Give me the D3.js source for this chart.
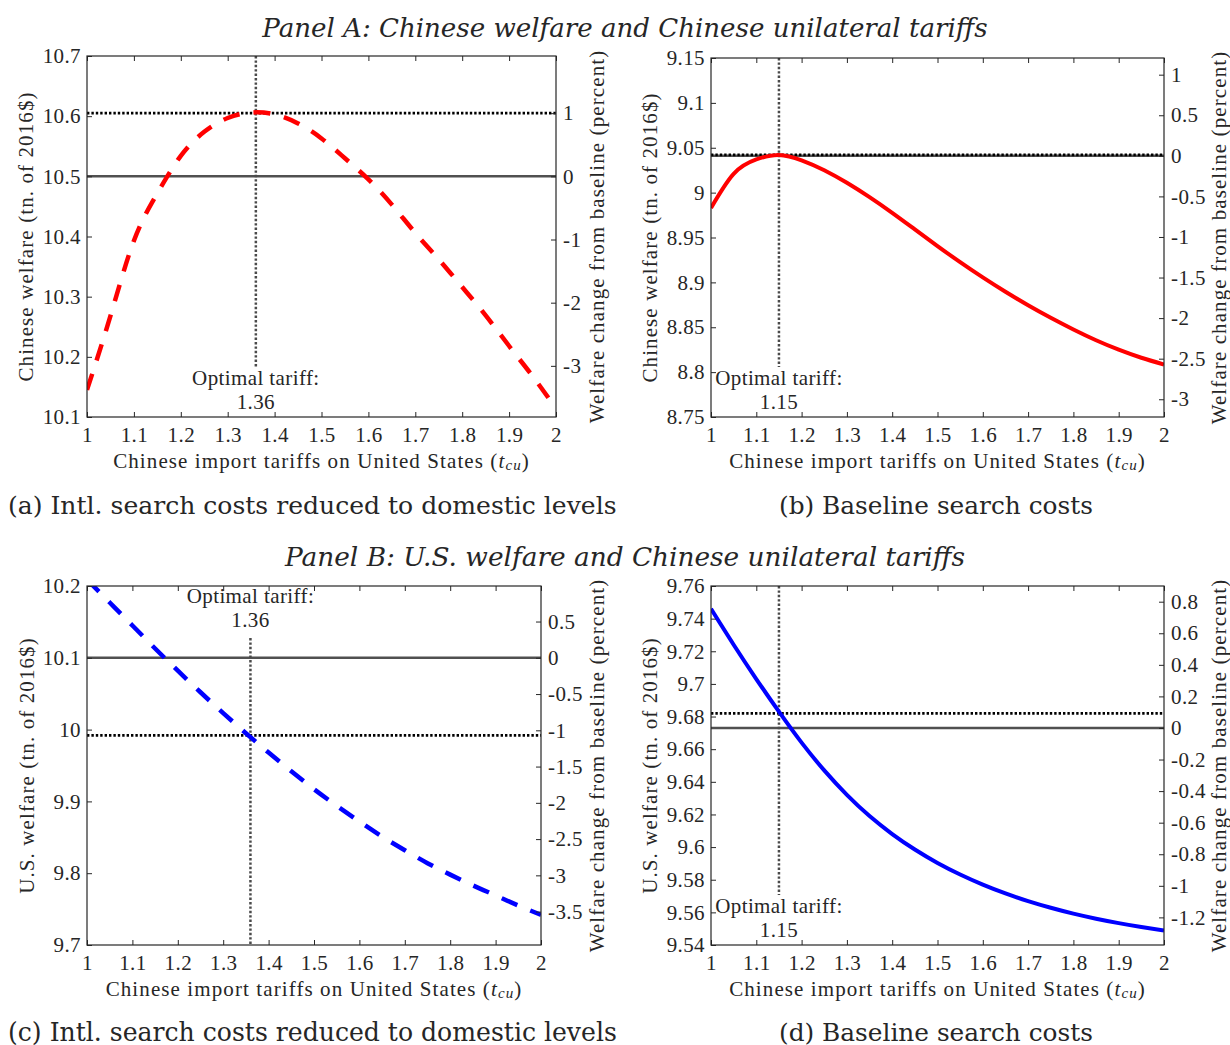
<!DOCTYPE html>
<html>
<head>
<meta charset="utf-8">
<script src="https://cdn.jsdelivr.net/npm/d3@7"></script>
<style>
  body { margin: 0; background: #fff; }
  svg text { fill: #262626; }
</style>
</head>
<body>
<svg id="chart" width="1230" height="1045"></svg>
<script>
// tariff grid (x values) and welfare
var tariffs = [1.00, 1.05, 1.10, 1.15, 1.20, 1.25, 1.30, 1.35, 1.40, 1.45, 1.50,
               1.55, 1.60, 1.65, 1.70, 1.75, 1.80, 1.85, 1.90, 1.95, 2.00];
var welfareA = [10.145, 10.268, 10.393, 10.472, 10.534, 10.574, 10.597, 10.606, 10.603, 10.588, 10.563,
                10.530, 10.495, 10.453, 10.406, 10.362, 10.316, 10.269, 10.218, 10.168, 10.114];
var welfareB = [8.983, 9.021, 9.037, 9.042, 9.036, 9.025, 9.011, 8.995, 8.9775, 8.959, 8.9405,
                8.9225, 8.9055, 8.8895, 8.8745, 8.8605, 8.8475, 8.8355, 8.825, 8.816, 8.8085];
var welfareC = [10.209, 10.177, 10.145, 10.113, 10.082, 10.052, 10.023, 9.995, 9.968, 9.942, 9.917,
                9.894, 9.872, 9.851, 9.832, 9.814, 9.798, 9.783, 9.769, 9.755, 9.742];
var welfareD = [9.746, 9.724, 9.703, 9.683, 9.664, 9.647, 9.632, 9.619, 9.608, 9.5985, 9.5903,
                9.5832, 9.577, 9.5716, 9.5669, 9.5628, 9.5592, 9.5561, 9.5534, 9.551, 9.5489];

var xTicks = [1, 1.1, 1.2, 1.3, 1.4, 1.5, 1.6, 1.7, 1.8, 1.9, 2];
var leftTicksA = [10.1, 10.2, 10.3, 10.4, 10.5, 10.6, 10.7];
var rightTicksA = [-3, -2, -1, 0, 1];
var leftTicksB = [8.75, 8.8, 8.85, 8.9, 8.95, 9, 9.05, 9.1, 9.15];
var rightTicksB = [-3, -2.5, -2, -1.5, -1, -0.5, 0, 0.5, 1];
var leftTicksC = [9.7, 9.8, 9.9, 10, 10.1, 10.2];
var rightTicksC = [-3.5, -3, -2.5, -2, -1.5, -1, -0.5, 0, 0.5];
var leftTicksD = [9.54, 9.56, 9.58, 9.6, 9.62, 9.64, 9.66, 9.68, 9.7, 9.72, 9.74, 9.76];
var rightTicksD = [-1.2, -1, -0.8, -0.6, -0.4, -0.2, 0, 0.2, 0.4, 0.6, 0.8];

// baseline welfare (0 percent), optimal tariff and welfare at it
var baselines = [10.5, 9.041, 10.1, 9.673];
var optTariffs = [1.36, 1.15, 1.36, 1.15];
var optWelfare = [10.605, 9.042, 9.992, 9.682];

var panelTitles = ["Panel A: Chinese welfare and Chinese unilateral tariffs",
                   "Panel B: U.S. welfare and Chinese unilateral tariffs"];
var captions = ["(a) Intl. search costs reduced to domestic levels", "(b) Baseline search costs",
                "(c) Intl. search costs reduced to domestic levels", "(d) Baseline search costs"];

var tickFont = "'Liberation Serif', 'DejaVu Serif', serif";
var capFont = "'DejaVu Serif', serif";

var panels = [
  {x0: 87, x1: 556, y0: 56, y1: 417, domain: [10.1, 10.7], lt: leftTicksA, rt: rightTicksA, lOff: 61, rOff: 41,
   values: welfareA, color: "#ff0000", dashed: true, ylab: "Chinese welfare (tn. of 2016$)", labelTop: false},
  {x0: 711, x1: 1164, y0: 58, y1: 417, domain: [8.75, 9.15], lt: leftTicksB, rt: rightTicksB, lOff: 61, rOff: 55,
   values: welfareB, color: "#ff0000", dashed: false, ylab: "Chinese welfare (tn. of 2016$)", labelTop: false},
  {x0: 87, x1: 541, y0: 586, y1: 945, domain: [9.7, 10.2], lt: leftTicksC, rt: rightTicksC, lOff: 60, rOff: 56,
   values: welfareC, color: "#0000ff", dashed: true, ylab: "U.S. welfare (tn. of 2016$)", labelTop: true},
  {x0: 711, x1: 1164, y0: 586, y1: 945, domain: [9.54, 9.76], lt: leftTicksD, rt: rightTicksD, lOff: 61, rOff: 55,
   values: welfareD, color: "#0000ff", dashed: false, ylab: "U.S. welfare (tn. of 2016$)", labelTop: false}
];

var svg = d3.select("#chart");
var fmt = function(d) { return String(+d.toFixed(3)); };

function fit(sel, w) {
  var len = sel.node().getComputedTextLength();
  var fs = parseFloat(sel.attr("font-size"));
  sel.attr("font-size", fs * w / len);
}

panels.forEach(function(p, i) {
  var base = baselines[i];
  var x = d3.scaleLinear().domain([1, 2]).range([p.x0, p.x1]);
  var y = d3.scaleLinear().domain(p.domain).range([p.y1, p.y0]);
  var yr = d3.scaleLinear()
      .domain(p.domain.map(function(v) { return (v / base - 1) * 100; }))
      .range([p.y1, p.y0]);

  var g = svg.append("g");
  var clipId = "clip" + i;
  g.append("clipPath").attr("id", clipId)
    .append("rect").attr("x", p.x0).attr("y", p.y0)
    .attr("width", p.x1 - p.x0).attr("height", p.y1 - p.y0);

  // baseline level
  g.append("line")
      .attr("x1", p.x0).attr("x2", p.x1)
      .attr("y1", y(base)).attr("y2", y(base))
      .attr("stroke", "#505050").attr("stroke-width", 2.5);

  // welfare at optimal tariff
  g.append("line")
      .attr("x1", p.x0).attr("x2", p.x1)
      .attr("y1", y(optWelfare[i])).attr("y2", y(optWelfare[i]))
      .attr("stroke", "#000").attr("stroke-width", 2.8)
      .attr("stroke-dasharray", "2.4,2");

  // vertical at optimal tariff + label
  var ox = x(optTariffs[i]);
  var vy0 = p.labelTop ? p.y0 + 52 : p.y0;
  var vy1 = p.labelTop ? p.y1 : p.y1 - 50;
  g.append("line")
      .attr("x1", ox).attr("x2", ox).attr("y1", vy0).attr("y2", vy1)
      .attr("stroke", "#4a4a4a").attr("stroke-width", 2.5)
      .attr("stroke-dasharray", "2.4,2");

  var ly1 = p.labelTop ? p.y0 + 10 : p.y1 - 39;
  var ly2 = p.labelTop ? p.y0 + 34 : p.y1 - 15;
  g.append("text").attr("x", ox).attr("y", ly1)
      .attr("text-anchor", "middle").attr("dominant-baseline", "central")
      .attr("font-family", tickFont).attr("font-size", 21).attr("letter-spacing", "0.4px")
      .text("Optimal tariff:");
  g.append("text").attr("x", ox).attr("y", ly2)
      .attr("text-anchor", "middle").attr("dominant-baseline", "central")
      .attr("font-family", tickFont).attr("font-size", 21).attr("letter-spacing", "0.4px")
      .text(fmt(optTariffs[i]));

  // welfare curve
  var line = d3.line()
      .x(function(d, k) { return x(tariffs[k]); })
      .y(function(d) { return y(d); })
      .curve(d3.curveNatural);
  g.append("path")
      .datum(p.values)
      .attr("clip-path", "url(#" + clipId + ")")
      .attr("d", line)
      .attr("fill", "none")
      .attr("stroke", p.color)
      .attr("stroke-width", p.dashed ? 4.5 : 4)
      .attr("stroke-dasharray", p.dashed ? "17,14" : null);

  // axes
  function style(a) {
    a.select(".domain").remove();
    a.attr("font-family", tickFont).attr("font-size", 21).attr("color", "#262626")
      .attr("letter-spacing", "0.4px");
    a.selectAll(".tick line").attr("stroke-width", 1);
  }
  g.append("g").attr("transform", "translate(0," + p.y1 + ")")
      .call(d3.axisBottom(x).tickValues(xTicks).tickFormat(fmt).tickSizeInner(-5).tickSizeOuter(0).tickPadding(10))
      .call(style);
  g.append("g").attr("transform", "translate(0," + p.y0 + ")")
      .call(d3.axisTop(x).tickValues(xTicks).tickFormat("").tickSizeInner(-5).tickSizeOuter(0))
      .call(style);
  g.append("g").attr("transform", "translate(" + p.x0 + ",0)")
      .call(d3.axisLeft(y).tickValues(p.lt).tickFormat(fmt).tickSizeInner(-5).tickSizeOuter(0).tickPadding(6))
      .call(style);
  g.append("g").attr("transform", "translate(" + p.x1 + ",0)")
      .call(d3.axisRight(yr).tickValues(p.rt).tickFormat(fmt).tickSizeInner(-5).tickSizeOuter(0).tickPadding(7))
      .call(style);

  g.append("rect")
      .attr("x", p.x0).attr("y", p.y0)
      .attr("width", p.x1 - p.x0).attr("height", p.y1 - p.y0)
      .attr("fill", "none").attr("stroke", "#262626").attr("stroke-width", 1.2);

  // axis labels
  var xl = g.append("text")
      .attr("x", (p.x0 + p.x1) / 2).attr("y", p.y1 + 44)
      .attr("text-anchor", "middle").attr("dominant-baseline", "central")
      .attr("font-family", tickFont).attr("font-size", 21).attr("letter-spacing", "1.1px");
  xl.append("tspan").text("Chinese import tariffs on United States (");
  xl.append("tspan").attr("font-style", "italic").text("t");
  xl.append("tspan").attr("font-style", "italic").attr("font-size", 15).attr("dy", 4).text("cu");
  xl.append("tspan").attr("dy", -4).text(")");

  g.append("text")
      .attr("transform", "translate(" + (p.x0 - p.lOff) + "," + (p.y0 + p.y1) / 2 + ") rotate(-90)")
      .attr("text-anchor", "middle").attr("dominant-baseline", "central")
      .attr("font-family", tickFont).attr("font-size", 21).attr("letter-spacing", "1.1px")
      .text(p.ylab);
  g.append("text")
      .attr("transform", "translate(" + (p.x1 + p.rOff) + "," + (p.y0 + p.y1) / 2 + ") rotate(-90)")
      .attr("text-anchor", "middle").attr("dominant-baseline", "central")
      .attr("font-family", tickFont).attr("font-size", 21).attr("letter-spacing", "1.1px")
      .text("Welfare change from baseline (percent)");
});

// panel titles
[[28, 726], [557, 680]].forEach(function(d, i) {
  var t = svg.append("text")
      .attr("x", 625).attr("y", d[0])
      .attr("text-anchor", "middle").attr("dominant-baseline", "central")
      .attr("font-family", capFont).attr("font-style", "italic").attr("font-size", 24)
      .text(panelTitles[i]);
  fit(t, d[1]);
});

// sub captions
[[8, 505, 609], [779, 505, 314], [8, 1032, 609], [779, 1032, 314]].forEach(function(d, i) {
  var t = svg.append("text")
      .attr("x", d[0]).attr("y", d[1])
      .attr("dominant-baseline", "central")
      .attr("font-family", capFont).attr("font-size", 24)
      .text(captions[i]);
  fit(t, d[2]);
});
</script>
</body>
</html>
